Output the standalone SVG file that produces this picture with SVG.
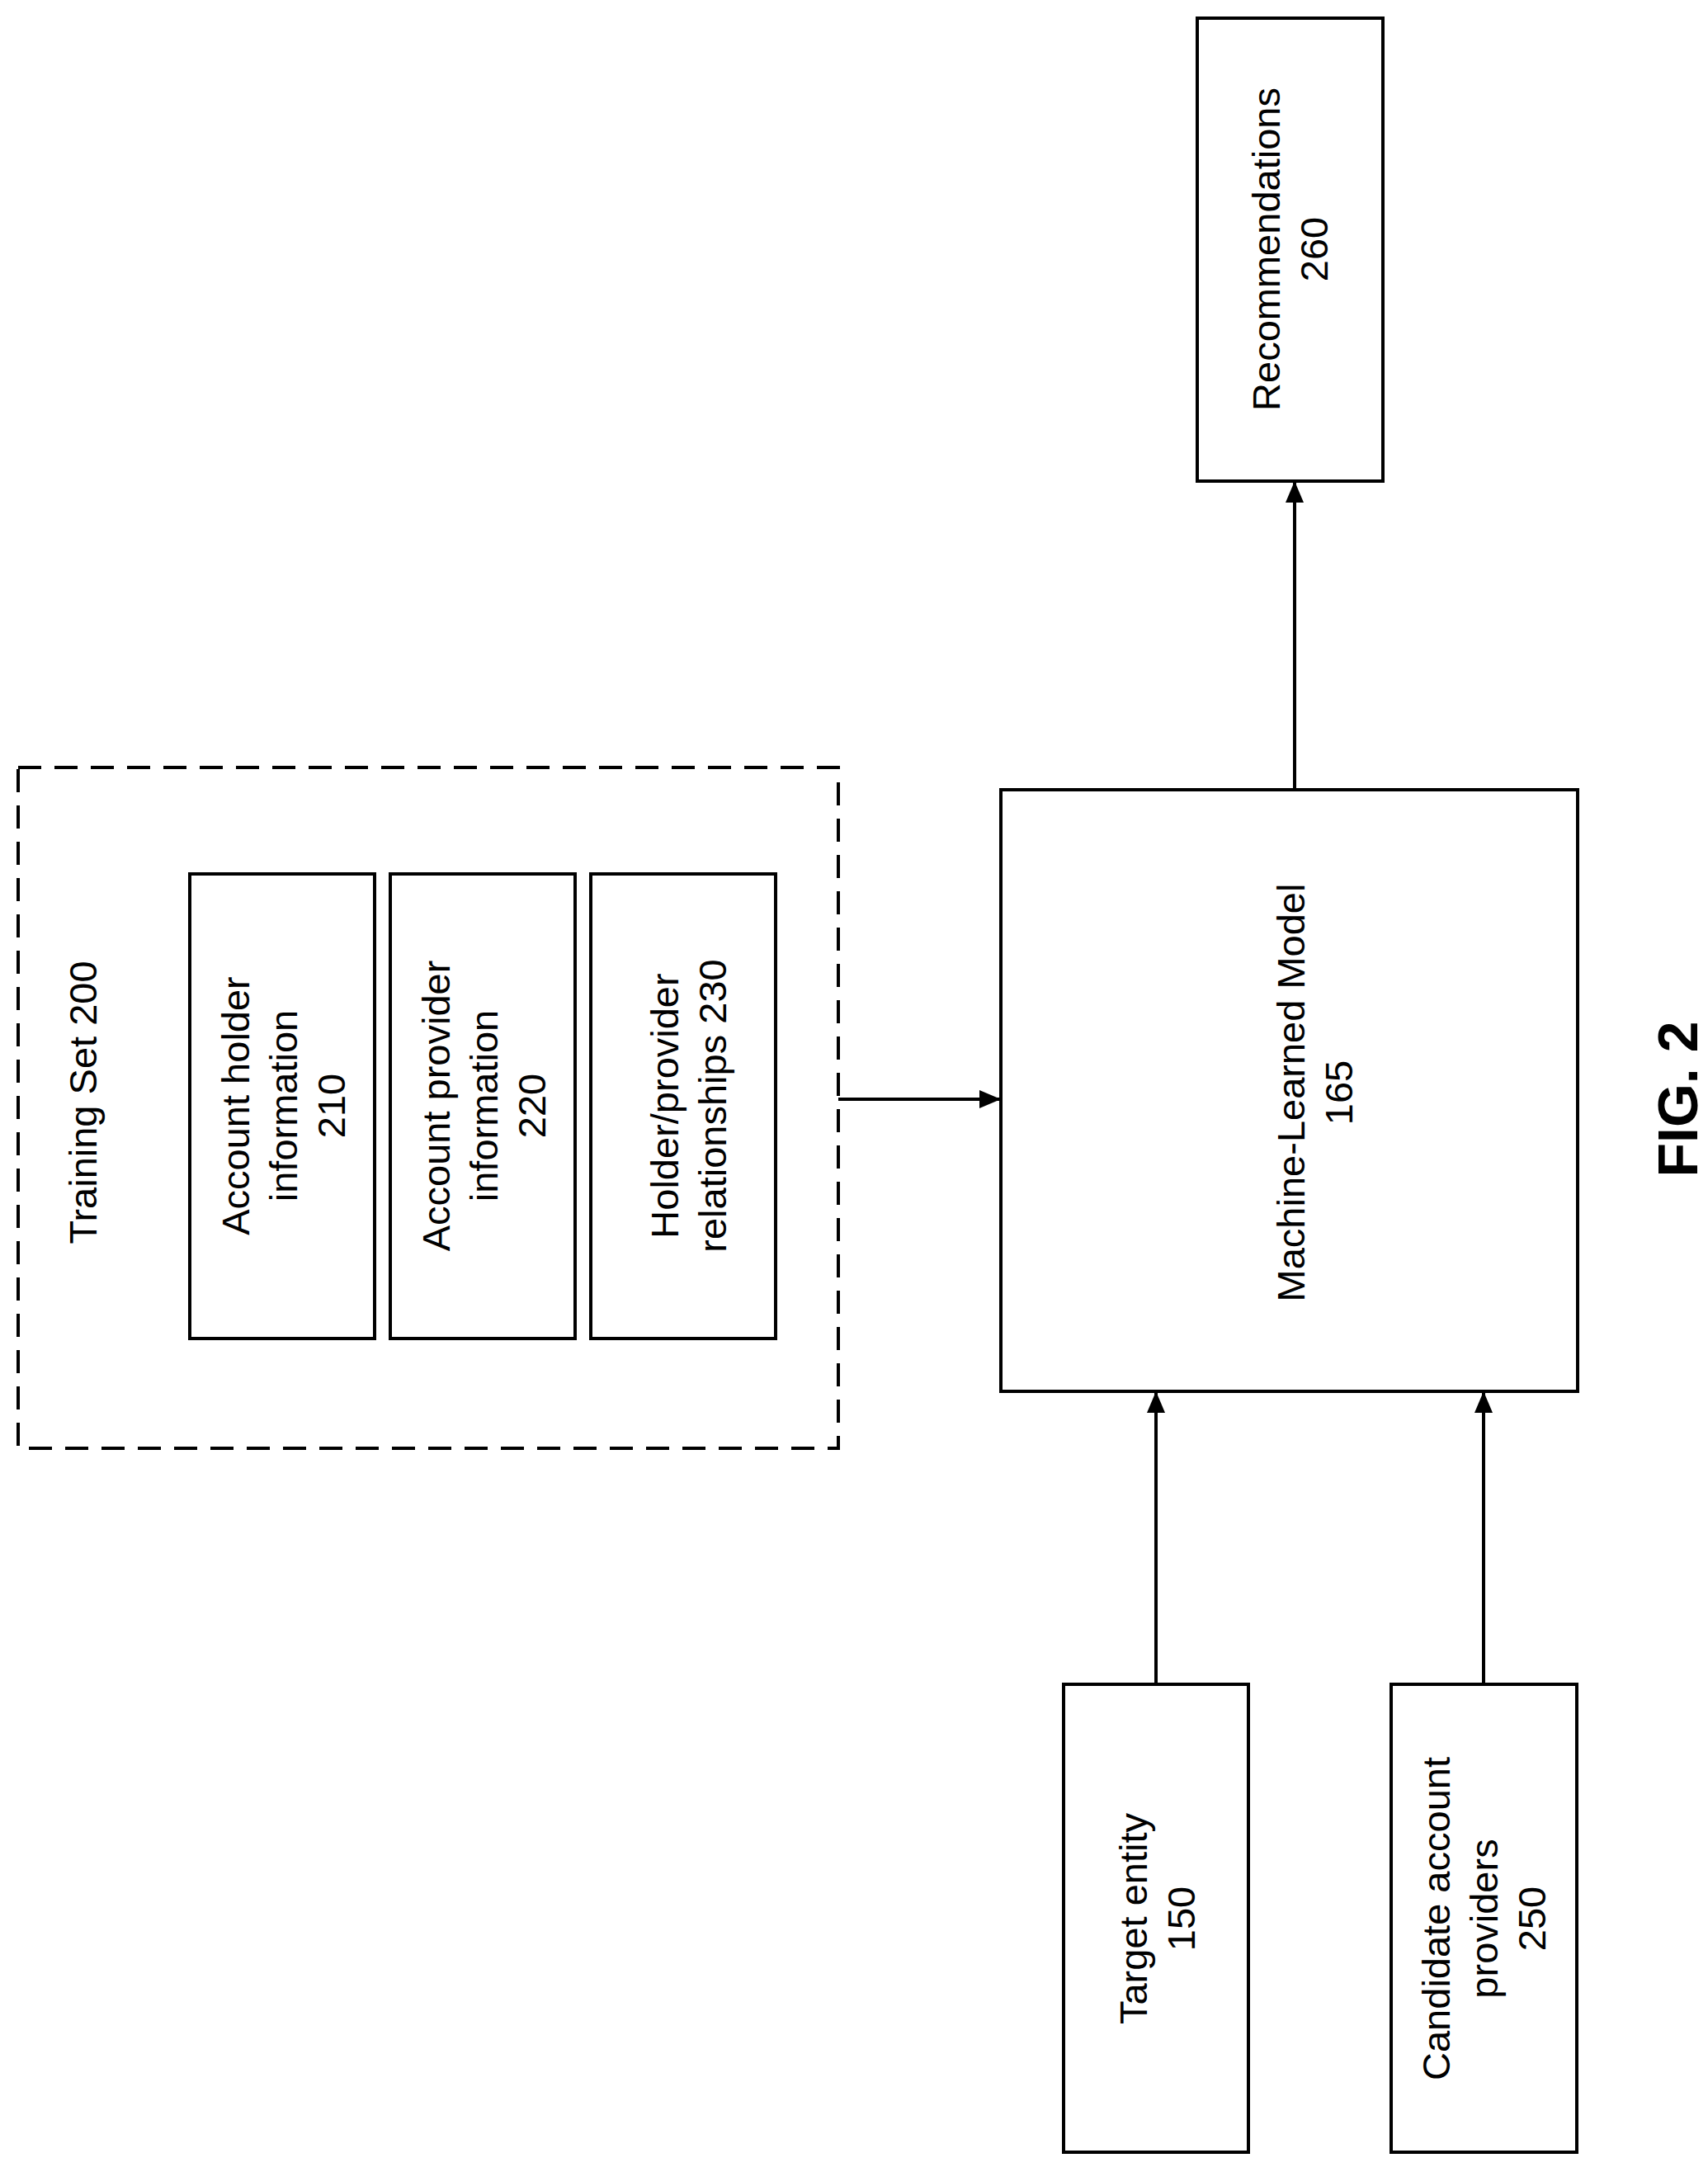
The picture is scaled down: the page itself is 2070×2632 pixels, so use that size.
<svg xmlns="http://www.w3.org/2000/svg" width="2070" height="2632" viewBox="0 0 2070 2632">
<style>
.b{fill:#fff;stroke:#000;stroke-width:4}
.t{font-family:"Liberation Sans",Arial,sans-serif;font-size:47px;text-anchor:middle;dominant-baseline:central;fill:#000}
.c{stroke:#000;stroke-width:4;fill:none;marker-end:url(#a)}
</style>
<defs><marker id="a" markerWidth="26" markerHeight="22" refX="24" refY="11" orient="auto" markerUnits="userSpaceOnUse" viewBox="0 0 26 22"><path d="M0,0L26,11L0,22z" fill="#000"/></marker></defs>
<rect width="2070" height="2632" fill="#fff"/>
<g id="training">
<rect x="22" y="930" width="994" height="825" fill="none" stroke="#000" stroke-width="4" stroke-dasharray="28,16"/>
<text class="t" transform="translate(100,1336) rotate(-90)">Training Set 200</text>
</g>
<g id="n210"><rect class="b" x="230" y="1059" width="224" height="563"/>
<text class="t" transform="translate(285,1340) rotate(-90)"><tspan x="0" y="0">Account holder</tspan><tspan x="0" y="58">information</tspan><tspan x="0" y="116">210</tspan></text></g>
<g id="n220"><rect class="b" x="473" y="1059" width="224" height="563"/>
<text class="t" transform="translate(528,1340) rotate(-90)"><tspan x="0" y="0">Account provider</tspan><tspan x="0" y="58">information</tspan><tspan x="0" y="116">220</tspan></text></g>
<g id="n230"><rect class="b" x="716" y="1059" width="224" height="563"/>
<text class="t" transform="translate(805,1340) rotate(-90)"><tspan x="0" y="0">Holder/provider</tspan><tspan x="0" y="58">relationships 230</tspan></text></g>
<g id="n165"><rect class="b" x="1213" y="957" width="699" height="729"/>
<text class="t" transform="translate(1564,1324) rotate(-90)"><tspan x="0" y="0">Machine-Learned Model</tspan><tspan x="0" y="58">165</tspan></text></g>
<g id="n260"><rect class="b" x="1451" y="22" width="225" height="561"/>
<text class="t" transform="translate(1534,302) rotate(-90)"><tspan x="0" y="0">Recommendations</tspan><tspan x="0" y="58">260</tspan></text></g>
<g id="n150"><rect class="b" x="1289" y="2041" width="224" height="567"/>
<text class="t" transform="translate(1373,2325) rotate(-90)"><tspan x="0" y="0">Target entity</tspan><tspan x="0" y="58">150</tspan></text></g>
<g id="n250"><rect class="b" x="1686" y="2041" width="225" height="567"/>
<text class="t" transform="translate(1740,2325) rotate(-90)"><tspan x="0" y="0">Candidate account</tspan><tspan x="0" y="58">providers</tspan><tspan x="0" y="116">250</tspan></text></g>
<g id="connectors">
<path class="c" d="M1016,1332H1211"/>
<path class="c" d="M1569,957V585"/>
<path class="c" d="M1401,2041V1688"/>
<path class="c" d="M1798,2041V1688"/>
</g>
<text transform="translate(2033,1332) rotate(-90)" style="font-family:'Liberation Sans',Arial,sans-serif;font-size:68px;font-weight:bold;text-anchor:middle;dominant-baseline:central">FIG. 2</text>
</svg>
